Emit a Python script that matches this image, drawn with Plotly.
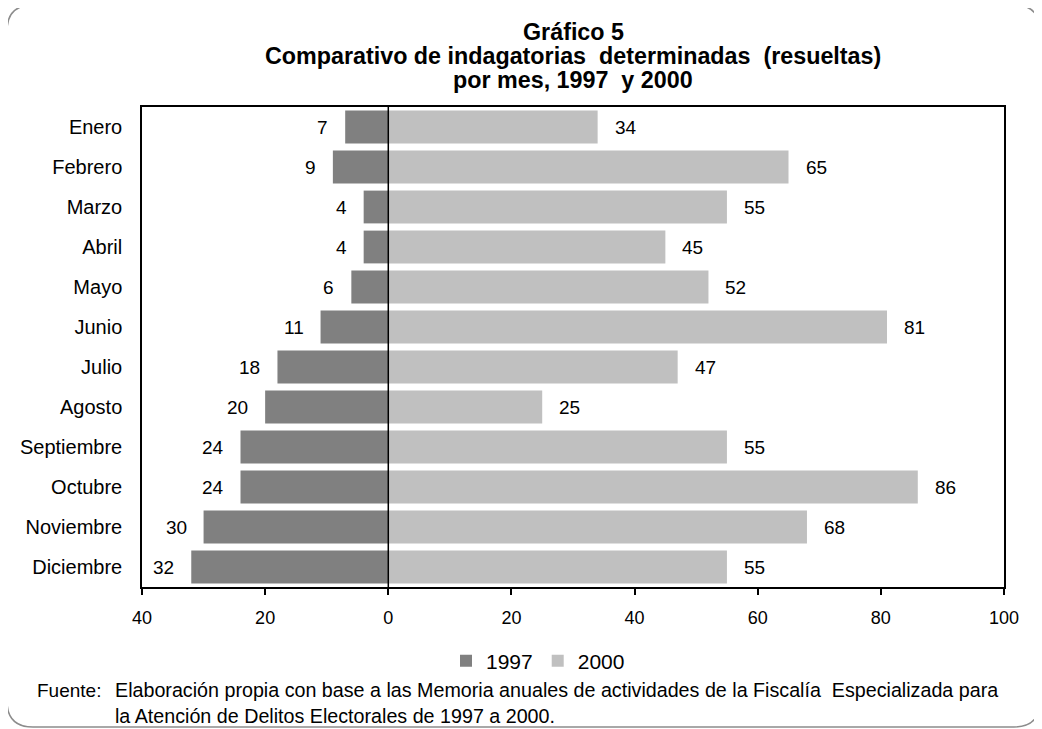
import plotly.graph_objects as go

months = ["Enero", "Febrero", "Marzo", "Abril", "Mayo", "Junio", "Julio",
          "Agosto", "Septiembre", "Octubre", "Noviembre", "Diciembre"]
v1997 = [7, 9, 4, 4, 6, 11, 18, 20, 24, 24, 30, 32]
v2000 = [34, 65, 55, 45, 52, 81, 47, 25, 55, 86, 68, 55]
tick_vals = [-40, -20, 0, 20, 40, 60, 80, 100]
tick_text = ["40", "20", "0", "20", "40", "60", "80", "100"]
title_lines = ["Gráfico 5",
               "Comparativo de indagatorias\u00a0 determinadas\u00a0 (resueltas)",
               "por mes, 1997\u00a0 y 2000"]

FONT = "Liberation Sans, Arial, sans-serif"
OFF = 8  # page body margin
W, H = 1042 - OFF, 729 - OFF
# plot area in reference pixel coordinates
PX0, PX1, PY0, PY1 = 142, 1004, 107, 587
L, R, T, B = PX0 - OFF, W - (PX1 - OFF), PY0 - OFF, H - (PY1 - OFF)
PW, PH = PX1 - PX0, PY1 - PY0


def px(x):
    return (x - PX0) / PW


def py(y):
    return (PY1 - y) / PH


fig = go.Figure()
fig.add_trace(go.Bar(y=months, x=[-v for v in v1997], orientation="h", name="1997",
                     marker=dict(color="#808080", line=dict(width=0))))
fig.add_trace(go.Bar(y=months, x=v2000, orientation="h", name="2000",
                     marker=dict(color="#c0c0c0", line=dict(width=0))))

annotations = []
for m, v in zip(months, v1997):
    annotations.append(dict(x=-v, y=m, xref="x", yref="y", text=str(v), showarrow=False,
                            xanchor="right", xshift=-15, font=dict(size=19, color="#000", family=FONT)))
for m, v in zip(months, v2000):
    annotations.append(dict(x=v, y=m, xref="x", yref="y", text=str(v), showarrow=False,
                            xanchor="left", xshift=15, font=dict(size=19, color="#000", family=FONT)))

for line, yy in zip(title_lines, [32, 56, 80]):
    annotations.append(dict(
        x=0.5, y=py(yy), xref="paper", yref="paper", showarrow=False,
        xanchor="center", yanchor="middle", text=f"<b>{line}</b>",
        font=dict(size=23.3, color="#000", family=FONT)))

annotations.append(dict(x=px(35), y=py(690), xref="paper", yref="paper", showarrow=False,
                        xanchor="left", yanchor="middle", text="Fuente:",
                        font=dict(size=19, color="#000", family=FONT)))
annotations.append(dict(x=px(113), y=py(702.5), xref="paper", yref="paper", showarrow=False,
                        xanchor="left", yanchor="middle", align="left",
                        text="Elaboración propia con base a las Memoria anuales de actividades de la Fiscalía\u00a0 Especializada para<br>la Atención de Delitos Electorales de 1997 a 2000.",
                        font=dict(size=19.7, color="#000", family=FONT)))

# rounded outer frame (reference pixel coords)
x0, x1, y0, y1, r = 7, 1040, 5, 727, 26
frame = (f"M {px(x0)},{py(y0 + r)} Q {px(x0)},{py(y0)} {px(x0 + r)},{py(y0)} "
         f"L {px(x1 - r)},{py(y0)} Q {px(x1)},{py(y0)} {px(x1)},{py(y0 + r)} "
         f"L {px(x1)},{py(y1 - r)} Q {px(x1)},{py(y1)} {px(x1 - r)},{py(y1)} "
         f"L {px(x0 + r)},{py(y1)} Q {px(x0)},{py(y1)} {px(x0)},{py(y1 - r)} Z")

shapes = [
    dict(type="path", path=frame, xref="paper", yref="paper",
         line=dict(color="#8c8c8c", width=1.5), layer="below"),
    dict(type="line", x0=0, x1=0, y0=0, y1=1, xref="x", yref="paper",
         line=dict(color="#000", width=1.5), layer="above"),
]

fig.update_layout(
    width=W, height=H,
    margin=dict(l=L, r=R, t=T, b=B),
    paper_bgcolor="white", plot_bgcolor="white",
    barmode="relative", bargap=0.18,
    font=dict(family=FONT, size=18, color="#000"),
    showlegend=True,
    legend=dict(orientation="h", x=px(538), xanchor="center", y=py(661), yanchor="middle",
                font=dict(size=21, family=FONT, color="#000"), traceorder="normal",
                itemwidth=30, bgcolor="rgba(0,0,0,0)"),
    annotations=annotations,
    shapes=shapes,
    xaxis=dict(range=[-40, 100], tickvals=tick_vals, ticktext=tick_text,
               showgrid=False, zeroline=False, showline=True, mirror=True,
               linecolor="#000", linewidth=1.5, ticks="outside", ticklen=6,
               tickcolor="#000", tickwidth=1.5, ticklabelstandoff=8,
               tickfont=dict(size=18, family=FONT, color="#000"), fixedrange=True),
    yaxis=dict(autorange="reversed", showgrid=False, zeroline=False, showline=True, mirror=True,
               linecolor="#000", linewidth=1.5, ticks="", ticklabelstandoff=14,
               tickfont=dict(size=20, family=FONT, color="#000"), fixedrange=True),
)

fig.write_html("out.html")
